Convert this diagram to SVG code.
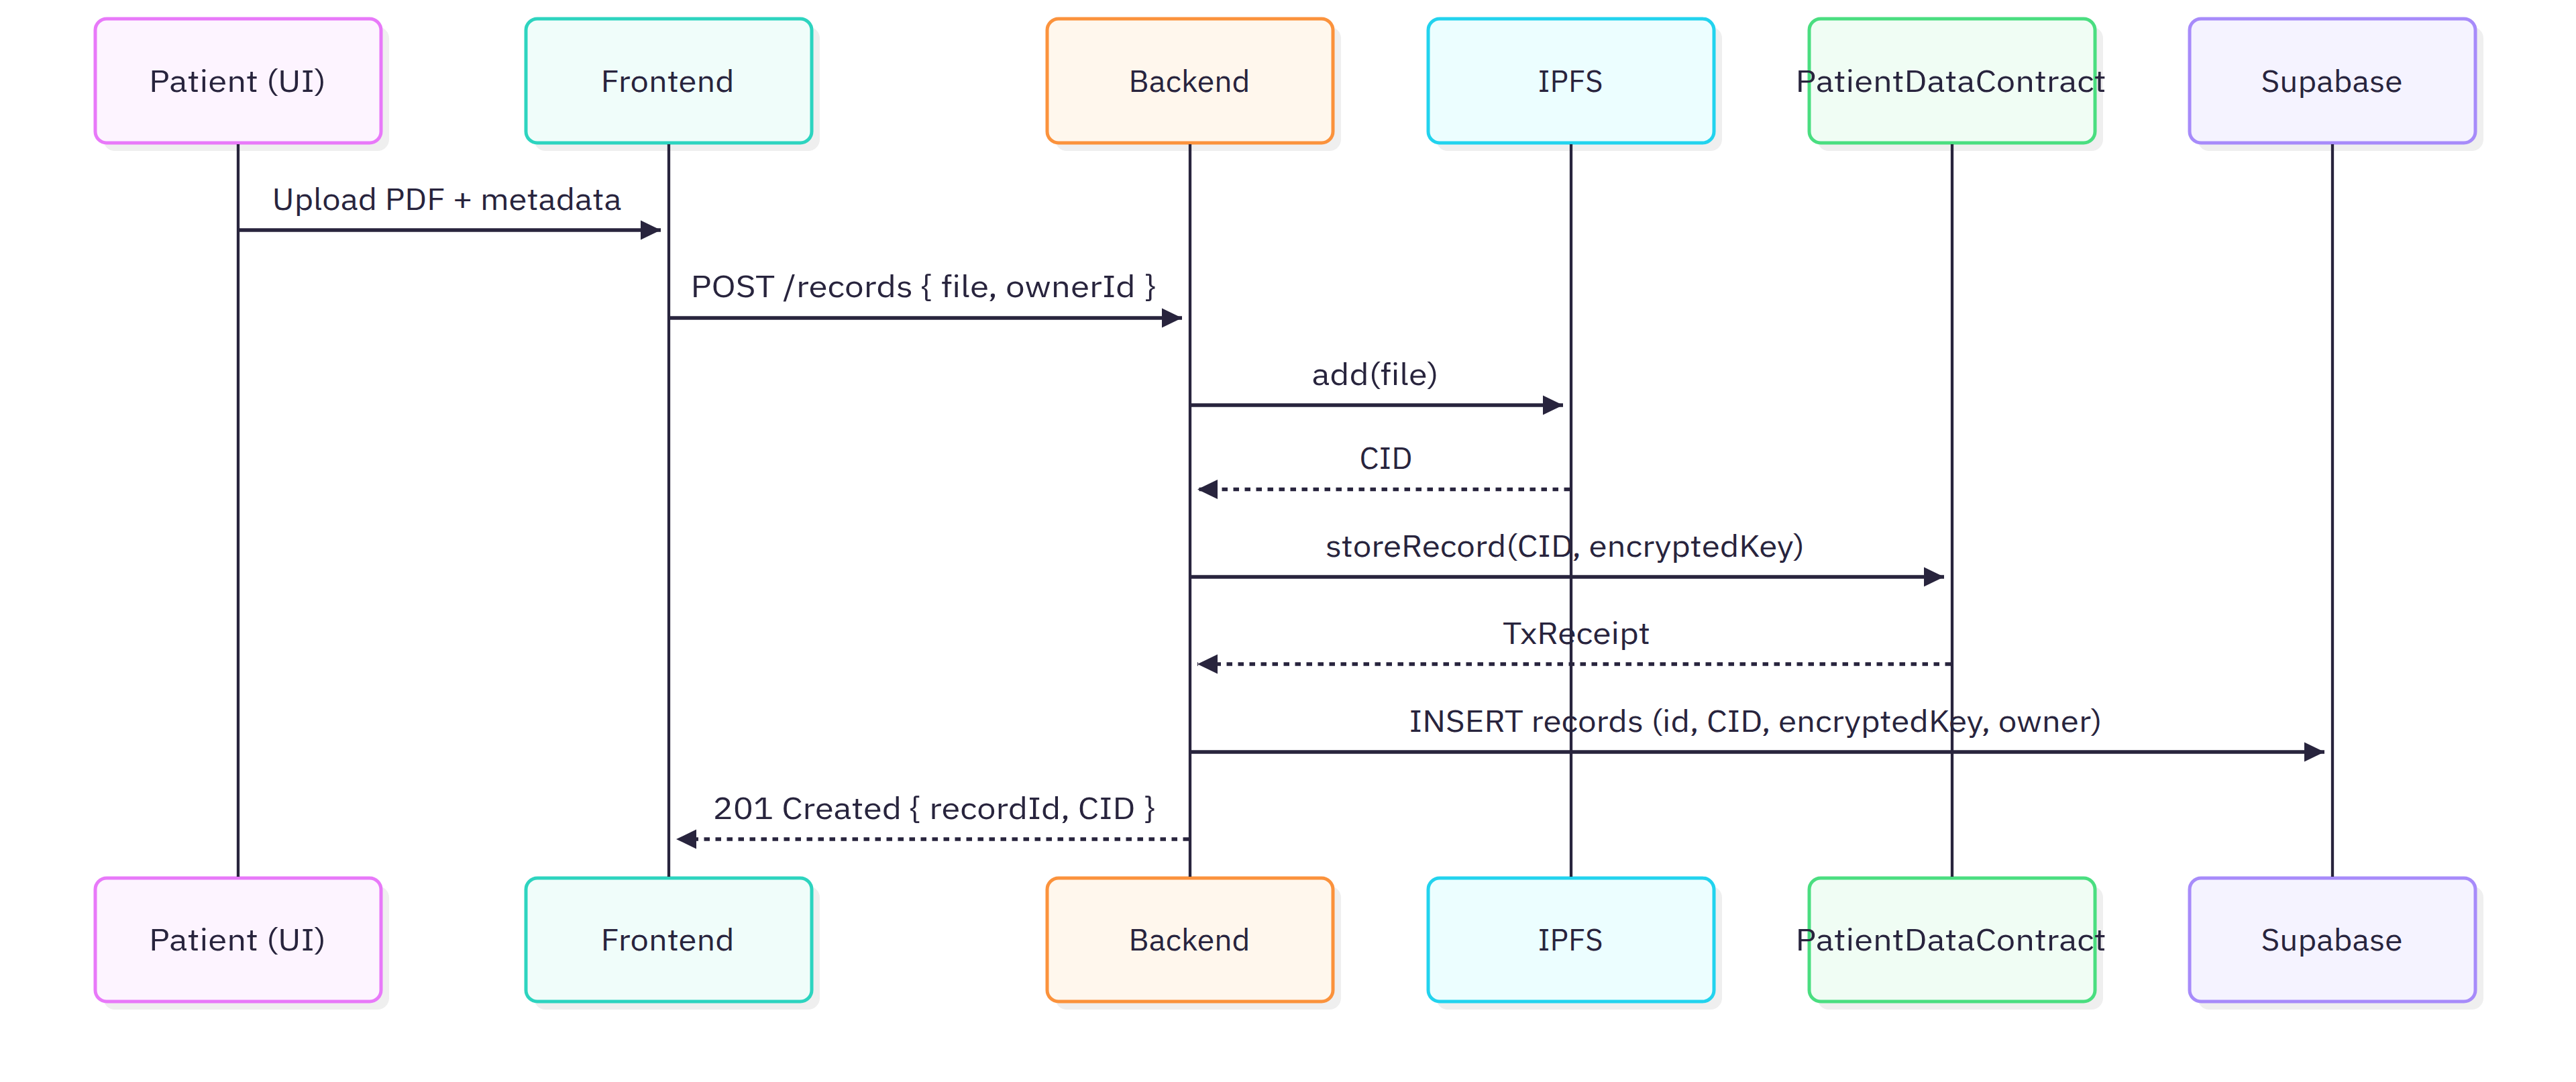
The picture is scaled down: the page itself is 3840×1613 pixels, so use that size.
<svg xmlns="http://www.w3.org/2000/svg" width="3840" height="1613" viewBox="0 0 3840 1613">
<style>
.bg{fill:#ffffff}
.shadow{fill:#efefef}
.box{stroke-width:5}
.lbl{font-family:"IBM Plex Sans","Noto Sans","Liberation Sans",sans-serif;font-size:46px;fill:#28243d;text-anchor:middle;font-variant-ligatures:none;font-feature-settings:"liga" 0}
.life{stroke:#28243d;stroke-width:4.3}
.msg{stroke:#28243d;stroke-width:5.5;fill:none}
.dash{stroke-dasharray:8.5 8.5}
.p{fill:#fdf4ff;stroke:#e879f9}
.f{fill:#f0fdfa;stroke:#2dd4bf}
.b{fill:#fff7ed;stroke:#fb923c}
.i{fill:#ecfeff;stroke:#22d3ee}
.c{fill:#f0fdf4;stroke:#4ade80}
.s{fill:#f5f3ff;stroke:#a78bfa}
</style>
<defs>
<marker id="ah" markerUnits="userSpaceOnUse" markerWidth="32" markerHeight="32" refX="30" refY="15" orient="auto">
<path d="M0,0.5 L30,15 L0,29.5 z" fill="#28243d"/>
</marker>
</defs>
<rect class="bg" x="0" y="0" width="3840" height="1613"/>

<g id="actor-patient">
<rect class="shadow" x="154" y="40" width="426" height="185" rx="17"/>
<rect class="box p" x="142" y="28" width="426" height="185" rx="17"/>
<text class="lbl" x="354" y="137" textLength="264" lengthAdjust="spacingAndGlyphs">Patient (UI)</text>
<rect class="shadow" x="154" y="1321" width="426" height="184" rx="17"/>
<rect class="box p" x="142" y="1309" width="426" height="184" rx="17"/>
<text class="lbl" x="354" y="1417" textLength="264" lengthAdjust="spacingAndGlyphs">Patient (UI)</text>
</g>

<g id="actor-frontend">
<rect class="shadow" x="796" y="40" width="426" height="185" rx="17"/>
<rect class="box f" x="784" y="28" width="426" height="185" rx="17"/>
<text class="lbl" x="995" y="137" textLength="199" lengthAdjust="spacingAndGlyphs">Frontend</text>
<rect class="shadow" x="796" y="1321" width="426" height="184" rx="17"/>
<rect class="box f" x="784" y="1309" width="426" height="184" rx="17"/>
<text class="lbl" x="995" y="1417" textLength="199" lengthAdjust="spacingAndGlyphs">Frontend</text>
</g>

<g id="actor-backend">
<rect class="shadow" x="1573" y="40" width="426" height="185" rx="17"/>
<rect class="box b" x="1561" y="28" width="426" height="185" rx="17"/>
<text class="lbl" x="1773" y="137" textLength="181" lengthAdjust="spacingAndGlyphs">Backend</text>
<rect class="shadow" x="1573" y="1321" width="426" height="184" rx="17"/>
<rect class="box b" x="1561" y="1309" width="426" height="184" rx="17"/>
<text class="lbl" x="1773" y="1417" textLength="181" lengthAdjust="spacingAndGlyphs">Backend</text>
</g>

<g id="actor-ipfs">
<rect class="shadow" x="2141" y="40" width="426" height="185" rx="17"/>
<rect class="box i" x="2129" y="28" width="426" height="185" rx="17"/>
<text class="lbl" x="2341" y="137" textLength="97" lengthAdjust="spacingAndGlyphs">IPFS</text>
<rect class="shadow" x="2141" y="1321" width="426" height="184" rx="17"/>
<rect class="box i" x="2129" y="1309" width="426" height="184" rx="17"/>
<text class="lbl" x="2341" y="1417" textLength="97" lengthAdjust="spacingAndGlyphs">IPFS</text>
</g>

<g id="actor-contract">
<rect class="shadow" x="2709" y="40" width="426" height="185" rx="17"/>
<rect class="box c" x="2697" y="28" width="426" height="185" rx="17"/>
<text class="lbl" x="2908" y="137" textLength="463" lengthAdjust="spacingAndGlyphs">PatientDataContract</text>
<rect class="shadow" x="2709" y="1321" width="426" height="184" rx="17"/>
<rect class="box c" x="2697" y="1309" width="426" height="184" rx="17"/>
<text class="lbl" x="2908" y="1417" textLength="463" lengthAdjust="spacingAndGlyphs">PatientDataContract</text>
</g>

<g id="actor-supabase">
<rect class="shadow" x="3276" y="40" width="426" height="185" rx="17"/>
<rect class="box s" x="3264" y="28" width="426" height="185" rx="17"/>
<text class="lbl" x="3476" y="137" textLength="211" lengthAdjust="spacingAndGlyphs">Supabase</text>
<rect class="shadow" x="3276" y="1321" width="426" height="184" rx="17"/>
<rect class="box s" x="3264" y="1309" width="426" height="184" rx="17"/>
<text class="lbl" x="3476" y="1417" textLength="211" lengthAdjust="spacingAndGlyphs">Supabase</text>
</g>

<g id="lifelines">
<line class="life" x1="355" y1="215" x2="355" y2="1307"/>
<line class="life" x1="997" y1="215" x2="997" y2="1307"/>
<line class="life" x1="1774" y1="215" x2="1774" y2="1307"/>
<line class="life" x1="2342" y1="215" x2="2342" y2="1307"/>
<line class="life" x1="2910" y1="215" x2="2910" y2="1307"/>
<line class="life" x1="3477" y1="215" x2="3477" y2="1307"/>
</g>

<g id="messages">
<line class="msg" x1="357" y1="343" x2="985" y2="343" marker-end="url(#ah)"/>
<text class="lbl" x="666" y="313" textLength="521" lengthAdjust="spacingAndGlyphs">Upload PDF + metadata</text>

<line class="msg" x1="999" y1="474" x2="1762" y2="474" marker-end="url(#ah)"/>
<text class="lbl" x="1376" y="443" textLength="693" lengthAdjust="spacingAndGlyphs">POST /records { file, ownerId }</text>

<line class="msg" x1="1776" y1="604" x2="2330" y2="604" marker-end="url(#ah)"/>
<text class="lbl" x="2050" y="574" textLength="189" lengthAdjust="spacingAndGlyphs">add(file)</text>

<line class="msg dash" x1="2340" y1="729.5" x2="1785" y2="729.5" marker-end="url(#ah)"/>
<text class="lbl" x="2066" y="699" textLength="79" lengthAdjust="spacingAndGlyphs">CID</text>

<line class="msg" x1="1776" y1="860" x2="2898" y2="860" marker-end="url(#ah)"/>
<text class="lbl" x="2333" y="830" textLength="714" lengthAdjust="spacingAndGlyphs">storeRecord(CID, encryptedKey)</text>

<line class="msg dash" x1="2908" y1="990" x2="1785" y2="990" marker-end="url(#ah)"/>
<text class="lbl" x="2350" y="960" textLength="220" lengthAdjust="spacingAndGlyphs">TxReceipt</text>

<line class="msg" x1="1776" y1="1121" x2="3465" y2="1121" marker-end="url(#ah)"/>
<text class="lbl" x="2617" y="1091" textLength="1033" lengthAdjust="spacingAndGlyphs">INSERT records (id, CID, encryptedKey, owner)</text>

<line class="msg dash" x1="1772" y1="1251" x2="1008" y2="1251" marker-end="url(#ah)"/>
<text class="lbl" x="1392" y="1221" textLength="659" lengthAdjust="spacingAndGlyphs">201 Created { recordId, CID }</text>
</g>
</svg>
